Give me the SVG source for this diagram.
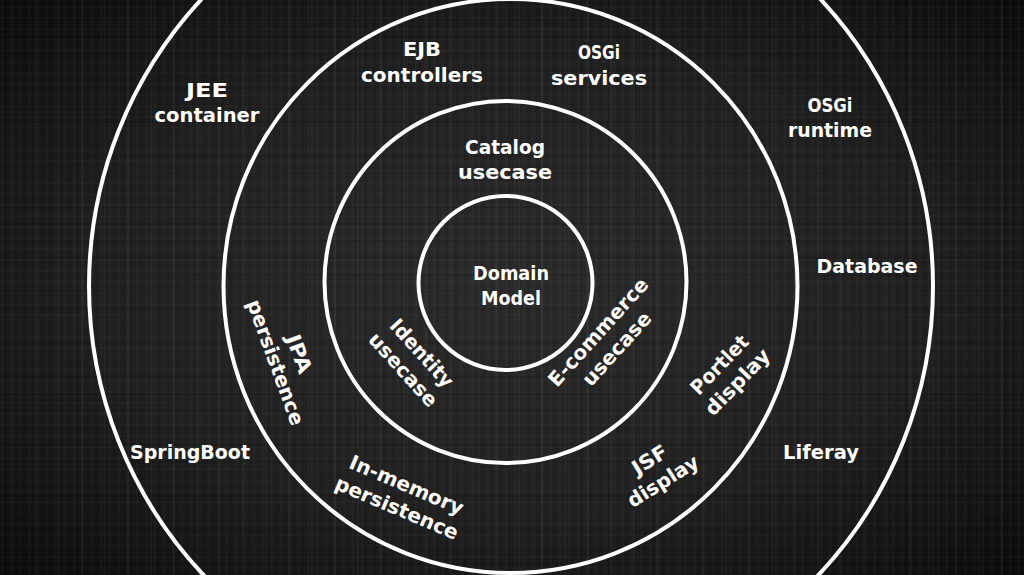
<svg xmlns="http://www.w3.org/2000/svg" width="1024" height="575" viewBox="0 0 1024 575">
  <defs>
    <radialGradient id="bg" cx="50%" cy="50%" r="70%">
      <stop offset="0" stop-color="#2b2b2b"/>
      <stop offset="0.6" stop-color="#1f1f1f"/>
      <stop offset="1" stop-color="#0c0c0c"/>
    </radialGradient>
    <pattern id="tex1" width="9" height="11" patternUnits="userSpaceOnUse">
      <line x1="2" y1="0" x2="2" y2="11" stroke="#ffffff" stroke-opacity="0.035" stroke-width="1"/>
      <line x1="0" y1="7" x2="9" y2="7" stroke="#ffffff" stroke-opacity="0.03" stroke-width="1"/>
      <line x1="6" y1="0" x2="6" y2="11" stroke="#000000" stroke-opacity="0.12" stroke-width="1"/>
    </pattern>
    <pattern id="tex2" width="23" height="17" patternUnits="userSpaceOnUse">
      <line x1="13" y1="0" x2="13" y2="17" stroke="#ffffff" stroke-opacity="0.04" stroke-width="1.5"/>
      <line x1="0" y1="3" x2="23" y2="3" stroke="#000000" stroke-opacity="0.12" stroke-width="1.5"/>
    </pattern>
    <style>
      .ring { fill: none; stroke: #ffffff; stroke-width: 4; }
      .lbl { fill: #ffffff; font-family: "DejaVu Sans", "Liberation Sans", sans-serif; font-size: 20px; font-weight: bold; text-anchor: middle; }
    </style>
  </defs>

  <rect width="1024" height="575" fill="url(#bg)"/>
  <rect width="1024" height="575" fill="url(#tex1)"/>
  <rect width="1024" height="575" fill="url(#tex2)"/>

  <g id="rings">
    <circle id="ring-outer" class="ring" cx="511" cy="286" r="422"/>
    <circle id="ring-infrastructure" class="ring" cx="510.5" cy="286" r="287"/>
    <circle id="ring-adapters" class="ring" cx="505.5" cy="282" r="181"/>
    <circle id="ring-domain" class="ring" cx="505.5" cy="283" r="87"/>
  </g>

  <g id="node-domain-model">
    <text class="lbl" x="511" y="280" textLength="76" lengthAdjust="spacingAndGlyphs">Domain</text>
    <text class="lbl" x="511" y="305" textLength="60" lengthAdjust="spacingAndGlyphs">Model</text>
  </g>

  <g id="node-catalog-usecase">
    <text class="lbl" x="505" y="154" textLength="80" lengthAdjust="spacingAndGlyphs">Catalog</text>
    <text class="lbl" x="505" y="179" textLength="94" lengthAdjust="spacingAndGlyphs">usecase</text>
  </g>

  <g id="node-identity-usecase" transform="translate(413,361) rotate(48)">
    <text class="lbl" x="0" y="-5" textLength="84" lengthAdjust="spacingAndGlyphs">Identity</text>
    <text class="lbl" x="0" y="20" textLength="92" lengthAdjust="spacingAndGlyphs">usecase</text>
  </g>

  <g id="node-ecommerce-usecase" transform="translate(607,340) rotate(-48)">
    <text class="lbl" x="0" y="-5" textLength="138" lengthAdjust="spacingAndGlyphs">E-commerce</text>
    <text class="lbl" x="0" y="20" textLength="92" lengthAdjust="spacingAndGlyphs">usecase</text>
  </g>

  <g id="node-ejb-controllers">
    <text class="lbl" x="422" y="56" textLength="38" lengthAdjust="spacingAndGlyphs">EJB</text>
    <text class="lbl" x="422" y="82" textLength="122" lengthAdjust="spacingAndGlyphs">controllers</text>
  </g>

  <g id="node-osgi-services">
    <text class="lbl" x="599" y="59" textLength="42" lengthAdjust="spacingAndGlyphs">OSGi</text>
    <text class="lbl" x="599" y="85" textLength="96" lengthAdjust="spacingAndGlyphs">services</text>
  </g>

  <g id="node-jpa-persistence" transform="translate(288,358) rotate(70)">
    <text class="lbl" x="0" y="-5" textLength="40" lengthAdjust="spacingAndGlyphs">JPA</text>
    <text class="lbl" x="0" y="20" textLength="132" lengthAdjust="spacingAndGlyphs">persistence</text>
  </g>

  <g id="node-inmemory-persistence" transform="translate(402,496) rotate(23)">
    <text class="lbl" x="0" y="-5" textLength="122" lengthAdjust="spacingAndGlyphs">In-memory</text>
    <text class="lbl" x="0" y="20" textLength="132" lengthAdjust="spacingAndGlyphs">persistence</text>
  </g>

  <g id="node-jsf-display" transform="translate(656,470) rotate(-32)">
    <text class="lbl" x="0" y="-5" textLength="38" lengthAdjust="spacingAndGlyphs">JSF</text>
    <text class="lbl" x="0" y="20" textLength="80" lengthAdjust="spacingAndGlyphs">display</text>
  </g>

  <g id="node-portlet-display" transform="translate(728,373) rotate(-46)">
    <text class="lbl" x="0" y="-5" textLength="74" lengthAdjust="spacingAndGlyphs">Portlet</text>
    <text class="lbl" x="0" y="20" textLength="84" lengthAdjust="spacingAndGlyphs">display</text>
  </g>

  <g id="node-jee-container">
    <text class="lbl" x="207" y="97" textLength="42" lengthAdjust="spacingAndGlyphs">JEE</text>
    <text class="lbl" x="207" y="122" textLength="105" lengthAdjust="spacingAndGlyphs">container</text>
  </g>

  <g id="node-osgi-runtime">
    <text class="lbl" x="830" y="112" textLength="45" lengthAdjust="spacingAndGlyphs">OSGi</text>
    <text class="lbl" x="830" y="137" textLength="84" lengthAdjust="spacingAndGlyphs">runtime</text>
  </g>

  <g id="node-database">
    <text class="lbl" x="867" y="273" textLength="101" lengthAdjust="spacingAndGlyphs">Database</text>
  </g>

  <g id="node-springboot">
    <text class="lbl" x="190" y="459" textLength="120" lengthAdjust="spacingAndGlyphs">SpringBoot</text>
  </g>

  <g id="node-liferay">
    <text class="lbl" x="821" y="459" textLength="76" lengthAdjust="spacingAndGlyphs">Liferay</text>
  </g>

  <g id="connectors"/>
</svg>
